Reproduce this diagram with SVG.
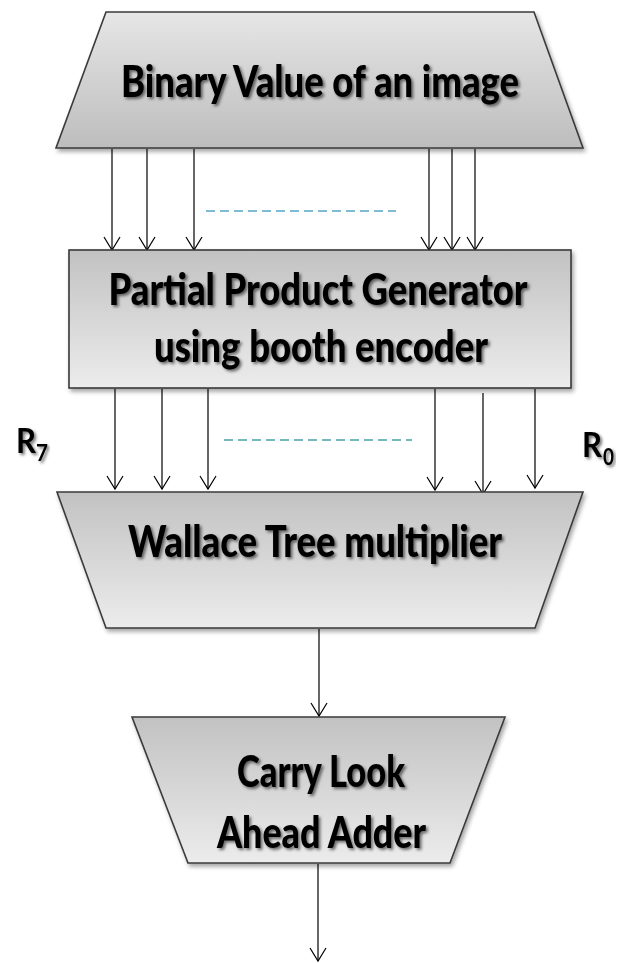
<svg xmlns="http://www.w3.org/2000/svg" width="624" height="963" viewBox="0 0 624 963">
  <style>
    .box { stroke: #3a3a3a; stroke-width: 1.6; }
    .label { font-family: Lato, "Open Sans", "Liberation Sans", sans-serif; font-weight: 900; font-size: 43px; fill: #000; text-anchor: middle; filter: url(#textShadow); }
    .reg { font-family: Lato, "Open Sans", "Liberation Sans", sans-serif; font-weight: bold; fill: #000; filter: url(#textShadow); }
    .wire { stroke: #000; stroke-width: 1.2; fill: none; marker-end: url(#arrow); }
    .dots { stroke-width: 2; stroke-dasharray: 9 5; fill: none; }
  </style>
  <defs>
    <linearGradient id="gradDown" x1="0" y1="0" x2="0" y2="1">
      <stop offset="0" stop-color="#e6e6e6"/>
      <stop offset="1" stop-color="#bdbdbd"/>
    </linearGradient>
    <linearGradient id="gradUp" x1="0" y1="0" x2="0" y2="1">
      <stop offset="0" stop-color="#c2c2c2"/>
      <stop offset="1" stop-color="#ececec"/>
    </linearGradient>
    <filter id="shapeShadow" x="-10%" y="-10%" width="120%" height="130%">
      <feDropShadow dx="2" dy="3" stdDeviation="2" flood-color="#000" flood-opacity="0.35"/>
    </filter>
    <filter id="textShadow" x="-10%" y="-20%" width="120%" height="150%">
      <feDropShadow dx="2" dy="2" stdDeviation="1.5" flood-color="#000" flood-opacity="0.55"/>
    </filter>
    <marker id="arrow" viewBox="-15 -9 17 18" refX="0" refY="0" markerWidth="17" markerHeight="18" markerUnits="userSpaceOnUse" orient="auto">
      <path d="M-13,-8 L0,0 L-13,8" fill="none" stroke="#000" stroke-width="1.2"/>
    </marker>
  </defs>

  <!-- connectors -->
  <g id="connectors">
    <line class="wire" x1="112" y1="149" x2="112" y2="250"/>
    <line class="wire" x1="147" y1="149" x2="147" y2="250"/>
    <line class="wire" x1="194" y1="149" x2="194" y2="250"/>
    <line class="wire" x1="429" y1="149" x2="429" y2="250"/>
    <line class="wire" x1="452" y1="149" x2="452" y2="250"/>
    <line class="wire" x1="475" y1="149" x2="475" y2="250"/>
    <line class="dots" stroke="#7fbcd4" x1="206" y1="211" x2="396" y2="211"/>

    <line class="wire" x1="115" y1="389" x2="115" y2="489"/>
    <line class="wire" x1="162" y1="389" x2="162" y2="489"/>
    <line class="wire" x1="208" y1="389" x2="208" y2="489"/>
    <line class="wire" x1="435" y1="389" x2="435" y2="490"/>
    <line class="wire" x1="483" y1="393" x2="483" y2="494"/>
    <line class="wire" x1="535" y1="389" x2="535" y2="488"/>
    <line class="dots" stroke="#76b8bc" x1="224" y1="440" x2="412" y2="440"/>

    <line class="wire" x1="319" y1="629" x2="319" y2="716"/>
    <line class="wire" x1="318" y1="864" x2="318" y2="961"/>
  </g>

  <!-- source: binary image value -->
  <g id="binaryValue">
    <polygon class="box" fill="url(#gradDown)" filter="url(#shapeShadow)" points="106,12 534,12 583,148 56,148"/>
    <text class="label" x="320" y="97" textLength="398" lengthAdjust="spacingAndGlyphs">Binary Value of an image</text>
  </g>

  <!-- partial product generator -->
  <g id="partialProduct">
    <rect class="box" fill="url(#gradUp)" filter="url(#shapeShadow)" x="69" y="250" width="502" height="138"/>
    <text class="label" x="318" y="305" textLength="419" lengthAdjust="spacingAndGlyphs">Partial Product Generator</text>
    <text class="label" x="321" y="362" textLength="334" lengthAdjust="spacingAndGlyphs">using booth encoder</text>
  </g>

  <!-- row labels -->
  <g id="labelR7">
    <text class="reg" x="16" y="453" font-size="34" textLength="20" lengthAdjust="spacingAndGlyphs">R</text>
    <text class="reg" x="36" y="461" font-size="22" textLength="12" lengthAdjust="spacingAndGlyphs">7</text>
  </g>
  <g id="labelR0">
    <text class="reg" x="582" y="457" font-size="34" textLength="20" lengthAdjust="spacingAndGlyphs">R</text>
    <text class="reg" x="603" y="465" font-size="22" textLength="11" lengthAdjust="spacingAndGlyphs">0</text>
  </g>

  <!-- wallace tree -->
  <g id="wallaceTree">
    <polygon class="box" fill="url(#gradUp)" filter="url(#shapeShadow)" points="57,492 583,492 535,628 106,628"/>
    <text class="label" x="315" y="557" textLength="374" lengthAdjust="spacingAndGlyphs">Wallace Tree multiplier</text>
  </g>

  <!-- carry look-ahead adder -->
  <g id="carryLookahead">
    <polygon class="box" fill="url(#gradUp)" filter="url(#shapeShadow)" points="132,717 505,717 450,863 188,863"/>
    <text class="label" x="321" y="787" textLength="168" lengthAdjust="spacingAndGlyphs">Carry Look</text>
    <text class="label" x="321.5" y="848" textLength="209" lengthAdjust="spacingAndGlyphs">Ahead Adder</text>
  </g>
</svg>
